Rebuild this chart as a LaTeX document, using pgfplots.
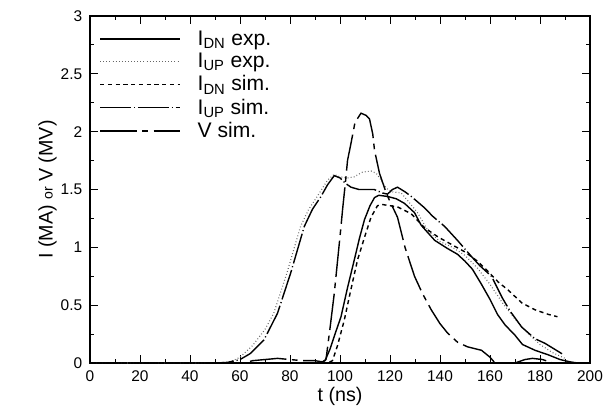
\documentclass[border=0pt]{standalone}
\usepackage{fontspec}
\setmainfont{Liberation Sans}
\usepackage{pgfplots}
\pgfplotsset{compat=1.18}

\begin{document}
\begin{tikzpicture}
\path[use as bounding box] (-2.25cm,-1.275cm) rectangle (13.075cm,9.075cm);
\begin{axis}[
    scale only axis,
    width=12.5cm, height=8.675cm,
    xmin=0, xmax=200, ymin=0, ymax=3,
    xtick={0,20,...,200},
    ytick={0,0.5,...,3},
    minor x tick num=1,
    minor y tick num=1,
    tick align=inside,
    major tick length=0.2cm,
    minor tick length=0.1cm,
    tick style={black, line width=0.6pt},
    axis line style={line width=1.8pt},
    /pgf/number format/assume math mode=true,
    ticklabel style={font=\fontsize{11}{13}\selectfont},
    xticklabel style={yshift=-2pt},
    yticklabel style={xshift=-2pt},
    xlabel={t (ns)},
    ylabel={I (MA) {\fontsize{10}{12}\selectfont or} V (MV)},
    label style={font=\fontsize{14}{16}\selectfont},
    xlabel style={yshift=3pt},
    ylabel style={yshift=-4pt},
    legend style={draw=none, fill=none, at={(0.01,0.975)}, anchor=north west,
        font=\fontsize{15}{16}\selectfont, row sep=0.2pt,
        legend cell align=left},
    legend image code/.code={\draw[#1] (0cm,0cm) -- (2cm,0cm); \path (2.35cm,0cm);},
]
% I_DN exp
\addplot[black, line width=1pt] coordinates {
(0,0)(92,0)(94,0.02)(96,0.12)(98,0.25)(100.4,0.4)(103,0.65)(105.7,0.89)
(107.8,1.08)(109.8,1.24)(112,1.36)(113.8,1.43)(115.5,1.45)(119,1.44)
(122.5,1.42)(125.8,1.38)(129.8,1.30)(132.5,1.19)(137.9,1.06)(143,0.99)
(147,0.94)(150,0.88)(153,0.81)(156.6,0.68)(160,0.55)(163,0.42)(166,0.33)
(170,0.24)(173,0.16)(178,0.11)(183.4,0.07)(188,0.03)(192,0.01)(195,0)
};
\addlegendentry{I\textsubscript{DN} exp.}
% I_UP exp
\addplot[black!60, line width=0.8pt, dash pattern=on 0.6pt off 1.6pt] coordinates {
(0,0)(50,0)(56,0.01)(60,0.05)(65,0.15)(70,0.29)(73.5,0.43)(78.8,0.78)
(84.2,1.18)(87.5,1.33)(90.9,1.44)(95,1.58)(97.6,1.63)(100,1.61)(103,1.60)
(105.7,1.61)(109,1.65)(112.4,1.66)(114.5,1.64)(116.5,1.58)(118.5,1.51)
(121,1.48)(124.5,1.47)(128,1.38)(131,1.30)(135,1.15)(140,1.05)(145,1.0)
(150,0.93)(155,0.82)(160,0.68)(165,0.52)(170,0.38)(175,0.26)(180,0.16)
(185,0.09)(190,0.04)
};
\addlegendentry{I\textsubscript{UP} exp.}
% I_DN sim
\addplot[black, line width=1pt, dash pattern=on 3pt off 2.5pt] coordinates {
(0,0)(95,0)(97,0.02)(99,0.15)(101.7,0.37)(104,0.6)(107,0.89)(110,1.1)
(112.4,1.26)(115,1.36)(117,1.37)(123,1.35)(128.5,1.29)(133.8,1.17)
(139.2,1.09)(145,1.02)(150,0.96)(155,0.88)(159.3,0.79)(163.3,0.70)
(167.3,0.63)(172.7,0.52)(178,0.46)(183.4,0.42)(187,0.40)
};
\addlegendentry{I\textsubscript{DN} sim.}
% I_UP sim
\addplot[black, line width=1pt, dash pattern=on 22pt off 2pt on 0.8pt off 2pt] coordinates {
(0,0)(50,0)(55,0.005)(60,0.03)(64,0.08)(69.6,0.2)(75,0.43)(80.3,0.78)
(85.7,1.18)(89,1.33)(92.4,1.44)(95,1.54)(97.7,1.62)(100,1.60)(102.4,1.55)
(104.4,1.52)(107.6,1.50)(113.7,1.50)(117,1.47)(119,1.46)(121,1.50)
(123,1.52)(126,1.48)(128.5,1.44)(133.9,1.34)(137,1.27)(141.9,1.18)
(147,1.06)(152.6,0.92)(156,0.84)(160.6,0.75)(162,0.69)(165,0.56)
(168,0.45)(172.7,0.31)(178,0.21)(182,0.17)(188.8,0.08)
};
\addlegendentry{I\textsubscript{UP} sim.}
% V sim
\addplot[black, line width=1pt, dash pattern=on 26pt off 4pt on 4pt off 4pt] coordinates {
(0,0)(62,0)(65,0.02)(70,0.03)(75,0.04)(80,0.03)(85,0.02)(90,0.02)
(93,0.01)(94.4,0.03)(96,0.3)(97.7,0.6)(100.4,1.18)(101,1.32)(102.4,1.61)
(103,1.75)(104.4,1.9)(106,2.08)(108.4,2.16)(110.5,2.14)(111.8,2.11)
(113.1,1.98)(113.8,1.84)(115.8,1.64)(118.5,1.47)(119.7,1.41)(123,1.26)
(126,1.0)(129.8,0.75)(133,0.6)(136.5,0.46)(140,0.34)(143,0.26)(147,0.18)
(151,0.14)(156.6,0.11)(160,0.05)(162,0)(170,0)(174,0.03)(177,0.04)
(181,0.03)(185,0)
};
\addlegendentry{V sim.}
\end{axis}
\end{tikzpicture}
\end{document}
